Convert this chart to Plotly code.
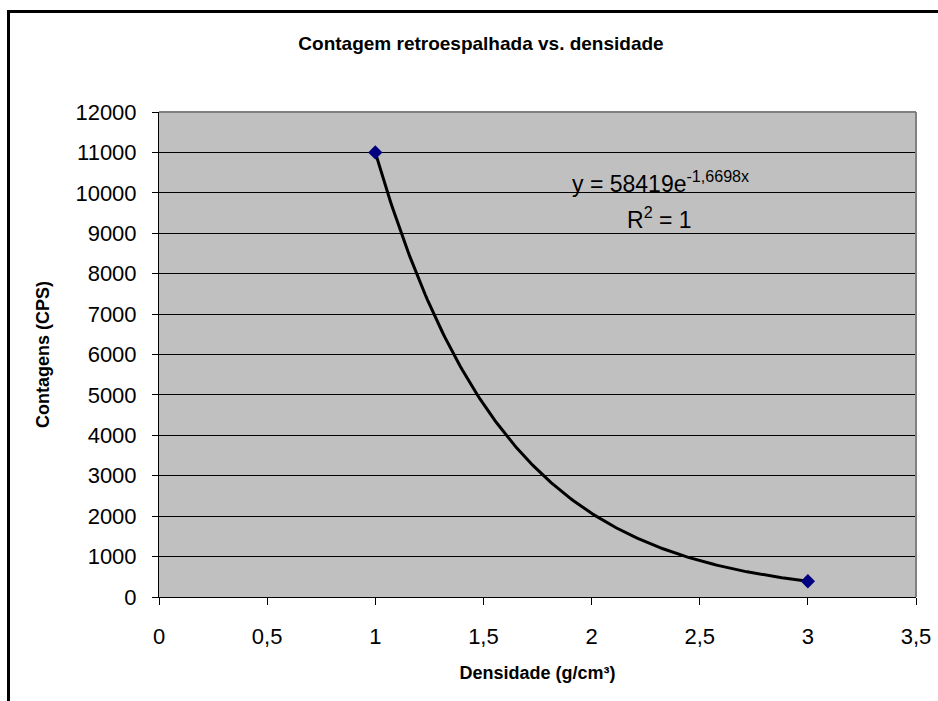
import numpy as np
import plotly.graph_objects as go

# Data
densidade = [1, 3]
contagens = [11000, 390]

x_tickvals = [0, 0.5, 1, 1.5, 2, 2.5, 3, 3.5]
x_ticktext = ["0", "0,5", "1", "1,5", "2", "2,5", "3", "3,5"]
y_tickvals = [0, 1000, 2000, 3000, 4000, 5000, 6000, 7000, 8000, 9000, 10000, 11000, 12000]
y_ticktext = [str(v) for v in y_tickvals]

titulo = "Contagem retroespalhada vs. densidade"
titulo_x = "Densidade (g/cm³)"
titulo_y = "Contagens (CPS)"
eq_texto = "y = 58419e<sup>-1,6698x</sup>"
r2_texto = "R<sup>2</sup> = 1"

# Exponential trendline fitted from the data points (as Excel does)
b, ln_a = np.polyfit(np.array(densidade, float), np.log(np.array(contagens, float)), 1)
xt = np.linspace(min(densidade), max(densidade), 200)
yt = np.exp(ln_a) * np.exp(b * xt)

FONT = "Liberation Sans, Arial, sans-serif"
W, H = 938, 701
L, R, T, B = 159, 22, 112, 104
pw, ph = W - L - R, H - T - B

def px_x(p):
    return (p - L) / pw

def px_y(p):
    return (H - B - p) / ph

fig = go.Figure()
fig.add_trace(go.Scatter(x=xt, y=yt, mode="lines",
                         line=dict(color="black", width=3),
                         showlegend=False, hoverinfo="skip"))
fig.add_trace(go.Scatter(x=densidade, y=contagens, mode="markers",
                         marker=dict(symbol="diamond", size=11, color="#000080",
                                     line=dict(width=0)),
                         showlegend=False))

fig.update_layout(
    width=W, height=H,
    margin=dict(l=L, r=R, t=T, b=B, autoexpand=False),
    paper_bgcolor="white",
    plot_bgcolor="#C0C0C0",
    font=dict(family=FONT, color="black"),
    title=dict(text="<b>" + titulo + "</b>", x=481 / W, xref="container", xanchor="center",
               y=1 - 43 / H, yref="container", yanchor="middle",
               font=dict(size=19, family=FONT, color="black")),
    showlegend=False,
)

fig.update_xaxes(range=[0, 3.5], tickmode="array", tickvals=x_tickvals, ticktext=x_ticktext,
                 showgrid=False, zeroline=False, showline=True, linecolor="black", linewidth=1,
                 ticks="outside", ticklen=7, tickcolor="black", tickwidth=1,
                 ticklabelstandoff=13,
                 tickfont=dict(size=22, family=FONT, color="black"),
                 title=dict(text="<b>" + titulo_x + "</b>", standoff=17,
                            font=dict(size=18, family=FONT, color="black")))
fig.update_yaxes(range=[0, 12000], tickmode="array", tickvals=y_tickvals, ticktext=y_ticktext,
                 showgrid=True, gridcolor="black", gridwidth=1,
                 zeroline=False, showline=True, linecolor="black", linewidth=1,
                 ticks="outside", ticklen=6, tickcolor="black", tickwidth=1,
                 ticklabelstandoff=11,
                 tickfont=dict(size=22, family=FONT, color="black"),
                 title=dict(text="<b>" + titulo_y + "</b>", standoff=21,
                            font=dict(size=18, family=FONT, color="black")))

# Plot-area border (gray, top & right)
fig.add_shape(type="line", xref="paper", yref="paper", x0=0, x1=1, y0=1, y1=1,
              line=dict(color="#808080", width=2), layer="above")
fig.add_shape(type="line", xref="paper", yref="paper", x0=1, x1=1, y0=0, y1=1,
              line=dict(color="#808080", width=2), layer="above")
# Chart-area border (black)
fig.add_shape(type="rect", xref="paper", yref="paper",
              x0=px_x(8.5), x1=px_x(950), y0=px_y(720), y1=px_y(11.5),
              line=dict(color="black", width=3), fillcolor="rgba(0,0,0,0)", layer="above")

# Trendline equation
fig.add_annotation(text=eq_texto, xref="paper", yref="paper",
                   x=px_x(660), y=px_y(182), xanchor="center", yanchor="middle",
                   showarrow=False, font=dict(size=23, family=FONT, color="black"))
fig.add_annotation(text=r2_texto, xref="paper", yref="paper",
                   x=px_x(659), y=px_y(218), xanchor="center", yanchor="middle",
                   showarrow=False, font=dict(size=23, family=FONT, color="black"))

fig.write_html("out.html", config={"displayModeBar": False},
               post_script="document.body.style.margin='0px';document.body.style.overflow='hidden';")
